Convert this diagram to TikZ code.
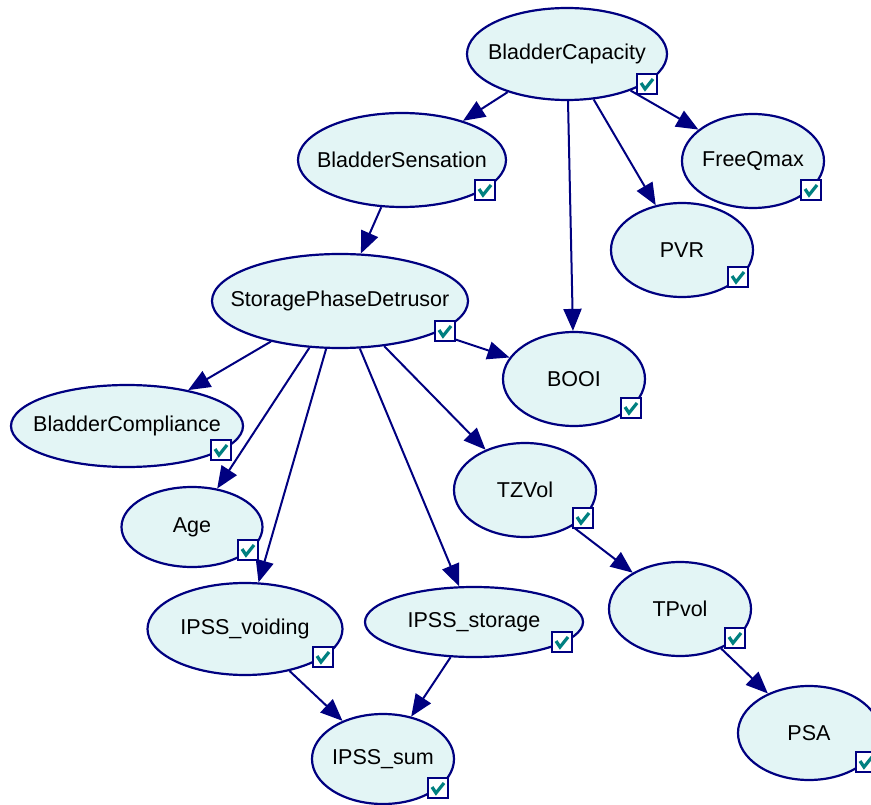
\documentclass[tikz,border=0pt]{standalone}
\usepackage{fontspec}
\setmainfont{Liberation Sans}
\usetikzlibrary{shapes.geometric,arrows.meta}
\definecolor{navy}{RGB}{0,0,128}
\definecolor{bnfill}{RGB}{227,245,245}
\definecolor{tickc}{RGB}{0,128,128}
\begin{document}
\begin{tikzpicture}[x=1pt,y=-1pt,
 bn/.style={ellipse,draw=navy,fill=bnfill,line width=2.2pt,inner sep=0pt},
 lbl/.style={font=\fontsize{21.5}{24}\selectfont,text=black},
 edge/.style={draw=navy,line width=2pt,-{Triangle[length=22pt,width=18pt]}},
 chk/.pic={\draw[navy,fill=white,line width=2pt] (-10,-10) rectangle (10,10);
           \draw[tickc,line width=3.2pt] (-6,-1) -- (-2,5) -- (6,-5);}
]
\useasboundingbox (0,0) rectangle (871,805);
\node[bn,minimum width=200pt,minimum height=92pt,label={[lbl]center:BladderCapacity}] (bc) at (567,54) {};
\node[bn,minimum width=208pt,minimum height=94pt,label={[lbl]center:BladderSensation}] (bs) at (402,160) {};
\node[bn,minimum width=142pt,minimum height=94pt,label={[lbl]center:FreeQmax}] (fq) at (753,161) {};
\node[bn,minimum width=142pt,minimum height=94pt,label={[lbl]center:PVR}] (pvr) at (682,250) {};
\node[bn,minimum width=256pt,minimum height=94pt,label={[lbl]center:StoragePhaseDetrusor}] (spd) at (340,301) {};
\node[bn,minimum width=142pt,minimum height=94pt,label={[lbl]center:BOOI}] (booi) at (574,379) {};
\node[bn,minimum width=232pt,minimum height=82pt,label={[lbl]center:BladderCompliance}] (bcomp) at (127,426) {};
\node[bn,minimum width=141pt,minimum height=80pt,label={[lbl]center:Age}] (age) at (192,527) {};
\node[bn,minimum width=142pt,minimum height=94pt,label={[lbl]center:TZVol}] (tz) at (525,490) {};
\node[bn,minimum width=195pt,minimum height=92pt,label={[lbl]center:IPSS\_voiding}] (iv) at (245,629) {};
\node[bn,minimum width=218pt,minimum height=70pt,label={[lbl]center:IPSS\_storage}] (is) at (474,622) {};
\node[bn,minimum width=142pt,minimum height=94pt,label={[lbl]center:TPvol}] (tp) at (680,609) {};
\node[bn,minimum width=142pt,minimum height=94pt,label={[lbl]center:PSA}] (psa) at (809,733) {};
\node[bn,minimum width=142pt,minimum height=90pt,label={[lbl]center:IPSS\_sum}] (sum) at (383,759) {};
\draw[edge] (bc) -- (bs);
\draw[edge] (bc) -- (booi);
\draw[edge] (bc) -- (pvr);
\draw[edge] (bc) -- (fq);
\draw[edge] (bs) -- (spd);
\draw[edge] (spd) -- (booi);
\draw[edge] (spd) -- (bcomp);
\draw[edge] (spd) -- (age);
\draw[edge] (spd) -- (iv);
\draw[edge] (spd) -- (is);
\draw[edge] (spd) -- (tz);
\draw[edge] (tz) -- (tp);
\draw[edge] (tp) -- (psa);
\draw[edge] (iv) -- (sum);
\draw[edge] (is) -- (sum);
\pic at (647,84) {chk};
\pic at (485,190) {chk};
\pic at (811,190) {chk};
\pic at (738,277) {chk};
\pic at (445,331) {chk};
\pic at (631,408) {chk};
\pic at (221,450) {chk};
\pic at (248,550) {chk};
\pic at (583,518) {chk};
\pic at (323,657) {chk};
\pic at (562,642) {chk};
\pic at (735,638) {chk};
\pic at (866,762) {chk};
\pic at (438,788) {chk};
\end{tikzpicture}
\end{document}
